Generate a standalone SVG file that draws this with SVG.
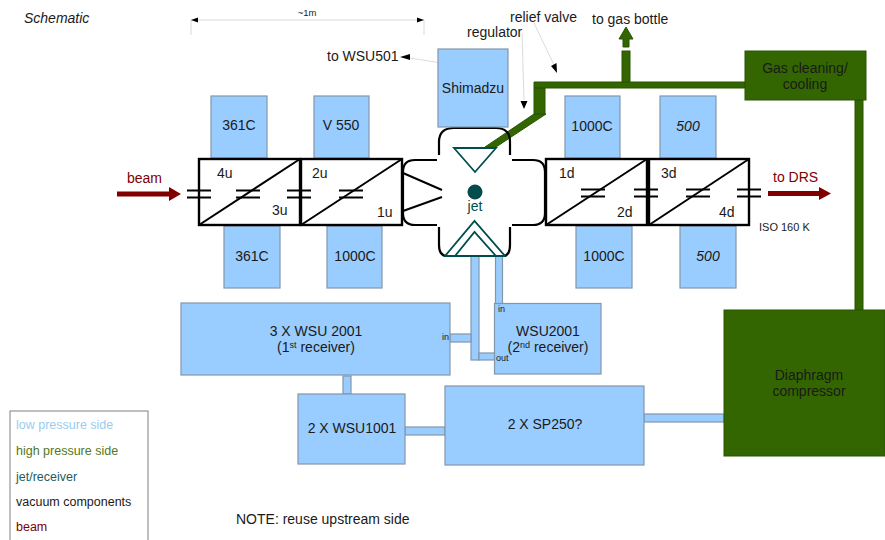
<svg xmlns="http://www.w3.org/2000/svg" width="885" height="540" viewBox="0 0 885 540">
<style>
text{font-family:"Liberation Sans",Arial,sans-serif;font-size:14px;fill:#1a1a1a}
.m{text-anchor:middle}
.lp{fill:#99ccff;stroke:#8296aa;stroke-width:1.2}
.hp{fill:#336600;stroke:#2b5500;stroke-width:1}
.box{fill:#fff;stroke:#000;stroke-width:2.4}
.bl{fill:none;stroke:#000;stroke-width:2}
.cham{fill:none;stroke:#000;stroke-width:2.2}
.jr{fill:none;stroke:#004d4d;stroke-width:1.8}
.thin{fill:none;stroke:#d0d0d0;stroke-width:.8}
.ah{fill:#000;stroke:none}
.beam{fill:#800000;stroke:none}
.tiny{font-size:9px}
.lg{font-size:12.500px}
</style>
<defs>
<g id="cap"><path class="bl" d="M-12 -3.500H12M-12 3.500H12"/></g>
</defs>

<g id="connectors">
  <path class="thin" d="M191 20H424M191 20V35M424 20V35"/>
  <path class="ah" d="M191 20l7 -2.500v5zM424 20l-7 -2.500v5z"/>
  <path class="thin" d="M404 57L460 66"/>
  <path class="ah" d="M400 57l10 -3v6z"/>
  <path class="thin" d="M522 33L524 100M534 23L554 65"/>
  <path class="ah" d="M524 109l-3.500 -8h7zM557 73l-6 -7 5.500 -3z"/>
  <rect class="lp" x="471" y="256" width="8" height="104"/>
  <rect class="lp" x="495.500" y="256" width="7" height="48"/>
  <rect class="lp" x="450" y="334" width="21" height="8"/>
  <rect class="lp" x="479" y="353" width="16" height="7"/>
  <rect class="lp" x="343" y="376" width="8" height="18"/>
  <rect class="lp" x="405" y="427" width="40" height="8"/>
  <rect class="lp" x="644" y="414" width="80" height="8"/>
  <path class="hp" d="M534 82H745V88H534zM534 88H545V114H534zM534 114H546L496 147H485z"/>
  <rect class="hp" x="622" y="51" width="8" height="31"/>
  <path class="hp" d="M626 27L633 39H629V47H623V39H619z"/>
  <rect class="hp" x="855" y="100" width="8" height="210"/>
  <path class="beam" d="M117 191.500H169V187L181 194L169 201V196.500H117z"/>
  <path class="beam" d="M768 191H819V187L831 193.500L819 200V196H768z"/>
</g>

<g id="chamber">
  <path class="cham" d="M439 155V142Q439 128 454 128H496Q510 128 510 142V155"/>
  <path class="cham" d="M437 160H415Q403 160 403 172V213Q403 225 415 225H437"/>
  <path class="cham" d="M512 160H533Q545 160 545 172V213Q545 225 533 225H512"/>
  <path class="cham" d="M439 227V245Q439 256 447 256M510 227V245Q510 256 503 256"/>
  <path class="bl" d="M403 173L442 190M403 211L442 197"/>
  <path class="jr" d="M454 148H496L475 172Z"/>
  <path class="jr" d="M445 256L474.500 221L505 256ZM455 256L474.500 232L496 256"/>
  <circle cx="475" cy="192" r="7" fill="#004d4d" stroke="#003a3a"/>
  <text class="m" x="475" y="211" style="fill:#004d4d">jet</text>
</g>

<g id="pump-361C-top"><rect class="lp" x="211" y="96" width="56" height="62"/><text class="m" x="239" y="130">361C</text></g>
<g id="pump-V550"><rect class="lp" x="314" y="96" width="55" height="62"/><text class="m" x="341" y="130">V 550</text></g>
<g id="pump-shimadzu"><rect class="lp" x="438" y="49" width="70" height="78"/><text class="m" x="473" y="93">Shimadzu</text></g>
<g id="pump-1000C-top"><rect class="lp" x="565" y="96" width="55" height="62"/><text class="m" x="592" y="131">1000C</text></g>
<g id="pump-500-top"><rect class="lp" x="660" y="96" width="56" height="62"/><text class="m" x="688" y="131" font-style="italic">500</text></g>
<g id="pump-361C-bottom"><rect class="lp" x="224" y="226" width="56" height="62"/><text class="m" x="252" y="261">361C</text></g>
<g id="pump-1000C-lower-left"><rect class="lp" x="327" y="226" width="55" height="62"/><text class="m" x="355" y="261">1000C</text></g>
<g id="pump-1000C-lower-right"><rect class="lp" x="576" y="226" width="56" height="62"/><text class="m" x="604" y="261">1000C</text></g>
<g id="pump-500-bottom"><rect class="lp" x="680" y="226" width="56" height="62"/><text class="m" x="708" y="261" font-style="italic">500</text></g>

<g id="stage-4u-3u">
  <rect class="box" x="199" y="159" width="101" height="66"/><path class="bl" d="M199 225L300 159"/>
  <text x="217" y="178">4u</text><text x="272" y="215">3u</text>
</g>
<g id="stage-2u-1u">
  <rect class="box" x="301" y="159" width="101" height="66"/><path class="bl" d="M301 225L402 159"/>
  <text x="312" y="178">2u</text><text x="377" y="217">1u</text>
</g>
<g id="stage-1d-2d">
  <rect class="box" x="546" y="159" width="101" height="66"/><path class="bl" d="M546 225L647 159"/>
  <text x="559" y="178">1d</text><text x="617" y="217">2d</text>
</g>
<g id="stage-3d-4d">
  <rect class="box" x="649" y="159" width="100" height="66"/><path class="bl" d="M649 225L749 159"/>
  <text x="661" y="178">3d</text><text x="719" y="217">4d</text>
</g>
<g id="gate-valves">
  <use href="#cap" x="199" y="194"/><use href="#cap" x="248" y="194"/><use href="#cap" x="299" y="194"/><use href="#cap" x="351" y="194"/>
  <use href="#cap" x="593" y="193"/><use href="#cap" x="646" y="193"/><use href="#cap" x="698" y="193"/><use href="#cap" x="749" y="193"/>
</g>

<g id="wsu2001-1"><rect class="lp" x="181" y="303" width="269" height="72"/><text class="m" x="316" y="336">3 X WSU 2001</text><text class="m" x="316" y="352">(1<tspan font-size="9" dy="-4">st</tspan><tspan dy="4"> receiver)</tspan></text><text class="tiny" x="442" y="340">in</text></g>
<g id="wsu2001-2"><rect class="lp" x="494.500" y="303.500" width="106.500" height="70.500"/><text class="m" x="548" y="336">WSU2001</text><text class="m" x="548" y="352">(2<tspan font-size="9" dy="-4">nd</tspan><tspan dy="4"> receiver)</tspan></text><text class="tiny" x="498" y="312">in</text><text class="tiny" x="496" y="361">out</text></g>
<g id="wsu1001"><rect class="lp" x="298" y="394" width="107" height="70"/><text class="m" x="352" y="433">2 X WSU1001</text></g>
<g id="sp250"><rect class="lp" x="445" y="386" width="199" height="79"/><text class="m" x="545" y="429">2 X SP250?</text></g>
<g id="gas-cleaning"><rect class="hp" x="745" y="51" width="121" height="49"/><text class="m" x="805" y="73">Gas cleaning/</text><text class="m" x="805" y="89">cooling</text></g>
<g id="compressor"><rect class="hp" x="724" y="310" width="161" height="146"/><text class="m" x="809" y="380">Diaphragm</text><text class="m" x="809" y="396">compressor</text></g>

<g id="legend">
  <rect x="10" y="411" width="138" height="135" fill="#fff" stroke="#808080" stroke-width="1"/>
  <text class="lg" x="16" y="429" style="fill:#99ccee">low pressure side</text>
  <text class="lg" x="16" y="455" style="fill:#557722">high pressure side</text>
  <text class="lg" x="16" y="481" style="fill:#1c5c5c">jet/receiver</text>
  <text class="lg" x="16" y="506">vacuum components</text>
  <text class="lg" x="16" y="531" style="fill:#800000">beam</text>
</g>

<g id="labels">
  <text x="24" y="23" font-style="italic">Schematic</text>
  <text class="m" x="307" y="16" style="font-size:9.500px">~1m</text>
  <text x="327" y="61">to WSU501</text>
  <text x="467" y="37">regulator</text>
  <text x="510" y="22">relief valve</text>
  <text x="592" y="24">to gas bottle</text>
  <text x="127" y="183" style="fill:#800000">beam</text>
  <text x="773" y="182" style="fill:#800000">to DRS</text>
  <text x="759" y="231" style="font-size:11px">ISO 160 K</text>
  <text x="236" y="524">NOTE: reuse upstream side</text>
</g>
</svg>
